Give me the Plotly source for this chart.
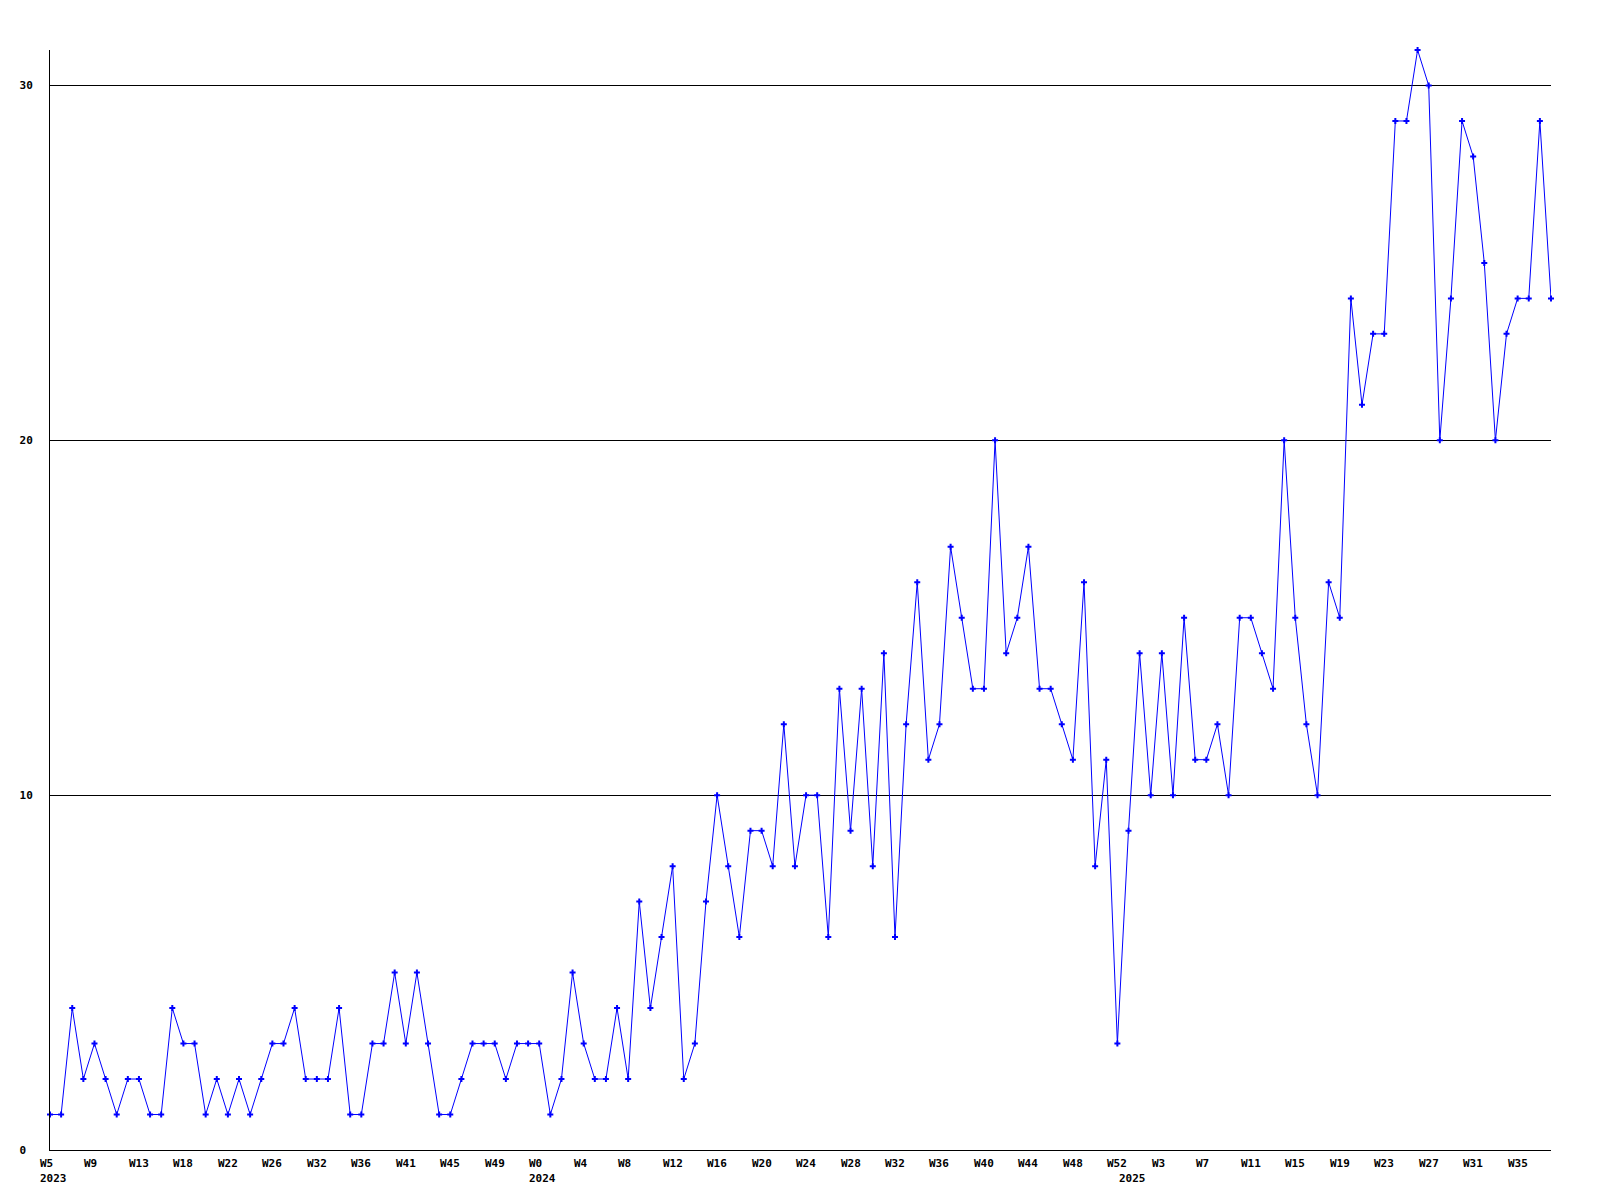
import plotly.graph_objects as go

values = [1,1,4,2,3,2,1,2,2,1,
          1,4,3,3,1,2,1,2,1,2,
          3,3,4,2,2,2,4,1,1,3,
          3,5,3,5,3,1,1,2,3,3,
          3,2,3,3,3,1,2,5,3,2,
          2,4,2,7,4,6,8,2,3,7,
          10,8,6,9,9,8,12,8,10,10,
          6,13,9,13,8,14,6,12,16,11,
          12,17,15,13,13,20,14,15,17,13,
          13,12,11,16,8,11,3,9,14,10,
          14,10,15,11,11,12,10,15,15,14,
          13,20,15,12,10,16,15,24,21,23,
          23,29,29,31,30,20,24,29,28,25,
          20,23,24,24,29,24]
x_index = list(range(len(values)))

week_labels = ["W5","W9","W13","W18","W22","W26","W32","W36","W41","W45","W49","W0",
               "W4","W8","W12","W16","W20","W24","W28","W32","W36","W40","W44","W48","W52",
               "W3","W7","W11","W15","W19","W23","W27","W31","W35"]
week_positions = [i * 4 for i in range(len(week_labels))]

year_labels = ["2023", "2024", "2025"]
year_positions = [0, 44, 97]

y_tickvals = [0, 10, 20, 30]
y_ticktext = ["0\u00a0", "10", "20", "30"]

FONT = "DejaVu Sans Mono"

fig = go.Figure()
fig.add_trace(go.Scatter(
    x=x_index, y=values, mode="lines+markers",
    line=dict(color="#0000ff", width=1),
    marker=dict(symbol="cross", size=5, color="#0000ff"),
    cliponaxis=False, showlegend=False, hoverinfo="skip"))

annotations = []
for lab, pos in zip(week_labels, week_positions):
    annotations.append(dict(x=pos, y=0, xref="x", yref="paper", text=lab,
                            showarrow=False, xanchor="left", yanchor="middle",
                            xshift=-12, yshift=-13,
                            font=dict(family=FONT, size=11, color="black", weight="bold")))
for lab, pos in zip(year_labels, year_positions):
    annotations.append(dict(x=pos, y=0, xref="x", yref="paper", text=lab,
                            showarrow=False, xanchor="left", yanchor="middle",
                            xshift=-12, yshift=-28,
                            font=dict(family=FONT, size=11, color="black", weight="bold")))

fig.update_layout(
    width=1600, height=1200,
    margin=dict(l=42, r=57, t=42, b=58),
    paper_bgcolor="white", plot_bgcolor="white",
    annotations=annotations,
    xaxis=dict(range=[0, 135], showgrid=False, zeroline=False, showticklabels=False,
               ticks="", showline=True, linecolor="black", linewidth=1, fixedrange=True),
    yaxis=dict(range=[0, 31], tickvals=y_tickvals, ticktext=y_ticktext,
               showgrid=True, gridcolor="black", gridwidth=1, zeroline=False,
               ticks="", showline=True, linecolor="black", linewidth=1,
               ticklabelstandoff=14,
               tickfont=dict(family=FONT, size=11, color="black", weight="bold")),
)

fig.write_html("out.html")
